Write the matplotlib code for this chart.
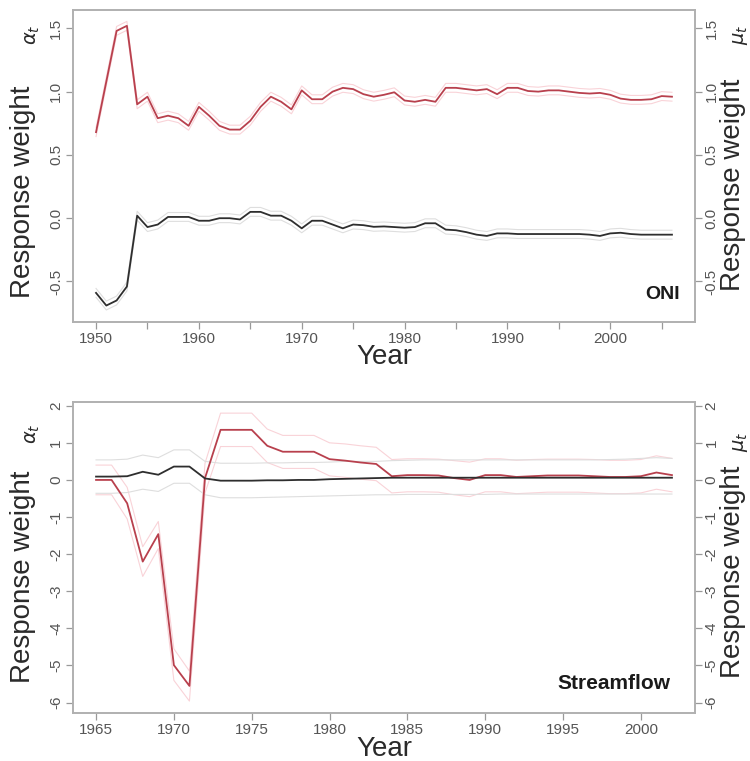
import numpy as np
import matplotlib
matplotlib.use("Agg")
import matplotlib.pyplot as plt

plt.rcParams['font.family'] = ['Liberation Sans', 'DejaVu Sans']

# ---- ONI panel (1950-2006) ----
oni_years = np.arange(1950, 2007)
oni_alpha = [0.68, 1.08, 1.48, 1.52, 0.90, 0.96, 0.79, 0.81, 0.79, 0.73,
             0.88, 0.81, 0.73, 0.70, 0.70, 0.77, 0.88, 0.96, 0.92, 0.86,
             1.01, 0.94, 0.94, 1.00, 1.03, 1.02, 0.98, 0.96, 0.975, 0.995,
             0.93, 0.92, 0.935, 0.92, 1.03, 1.03, 1.02, 1.01, 1.02, 0.98,
             1.03, 1.03, 1.005, 1.00, 1.01, 1.01, 1.00, 0.99, 0.985, 0.99,
             0.975, 0.945, 0.935, 0.935, 0.94, 0.965, 0.96]
oni_mu = [-0.59, -0.69, -0.65, -0.54, 0.02, -0.07, -0.05, 0.01, 0.01, 0.01,
          -0.02, -0.02, 0.00, 0.00, -0.01, 0.05, 0.05, 0.02, 0.02, -0.02,
          -0.08, -0.02, -0.02, -0.05, -0.08, -0.05, -0.055, -0.068, -0.065, -0.07,
          -0.075, -0.07, -0.04, -0.04, -0.09, -0.095, -0.11, -0.13, -0.14, -0.12,
          -0.12, -0.125, -0.125, -0.125, -0.125, -0.125, -0.125, -0.125, -0.13, -0.14,
          -0.12, -0.115, -0.125, -0.13, -0.13, -0.13, -0.13]
oni_band = 0.035  # half width of the faint bands

# ---- Streamflow panel (1965-2002) ----
sf_years = np.arange(1965, 2003)
sf_alpha = [0.0, 0.0, -0.63, -2.2, -1.46, -4.99, -5.55, 0.05, 1.35, 1.35,
            1.35, 0.92, 0.76, 0.76, 0.76, 0.56, 0.52, 0.47, 0.43, 0.10,
            0.13, 0.13, 0.12, 0.05, 0.0, 0.13, 0.13, 0.08, 0.10, 0.12,
            0.12, 0.12, 0.10, 0.08, 0.08, 0.10, 0.20, 0.13]
sf_alpha_hi = [0.40, 0.40, -0.20, -1.80, -1.12, -4.55, -5.15, 0.45, 1.80, 1.80,
               1.80, 1.37, 1.20, 1.20, 1.20, 1.00, 0.97, 0.92, 0.88, 0.55,
               0.57, 0.57, 0.56, 0.52, 0.48, 0.57, 0.57, 0.53, 0.55, 0.56,
               0.56, 0.56, 0.55, 0.53, 0.53, 0.55, 0.65, 0.58]
sf_alpha_lo = [-0.40, -0.40, -1.05, -2.60, -1.85, -5.40, -5.96, -0.35, 0.90, 0.90,
               0.90, 0.47, 0.31, 0.31, 0.31, 0.11, 0.07, 0.02, -0.02, -0.35,
               -0.32, -0.32, -0.33, -0.40, -0.45, -0.32, -0.32, -0.37, -0.35, -0.33,
               -0.33, -0.33, -0.35, -0.37, -0.37, -0.35, -0.25, -0.32]
sf_mu = [0.09, 0.09, 0.10, 0.22, 0.14, 0.36, 0.36, 0.04, -0.02, -0.02,
         -0.02, -0.01, -0.01, 0.0, 0.0, 0.02, 0.03, 0.04, 0.05, 0.06,
         0.06, 0.06, 0.06, 0.06, 0.06, 0.06, 0.06, 0.06, 0.06, 0.06,
         0.06, 0.06, 0.06, 0.06, 0.06, 0.06, 0.06, 0.06]
sf_mu_hi = [0.54, 0.54, 0.56, 0.67, 0.60, 0.81, 0.81, 0.50, 0.45, 0.45,
            0.45, 0.46, 0.46, 0.47, 0.47, 0.48, 0.50, 0.50, 0.50, 0.52,
            0.53, 0.54, 0.54, 0.54, 0.54, 0.54, 0.54, 0.54, 0.54, 0.54,
            0.54, 0.54, 0.54, 0.55, 0.56, 0.58, 0.60, 0.58]
sf_mu_lo = [-0.36, -0.36, -0.34, -0.25, -0.31, -0.09, -0.09, -0.40, -0.48, -0.48,
            -0.48, -0.47, -0.46, -0.45, -0.44, -0.43, -0.42, -0.41, -0.40, -0.40,
            -0.39, -0.39, -0.39, -0.39, -0.39, -0.39, -0.38, -0.38, -0.38, -0.38,
            -0.38, -0.38, -0.38, -0.38, -0.38, -0.38, -0.38, -0.38]

RED = '#b8404d'
BLACK = '#2e2e2e'
PINK = '#f9d3d8'
GREY = '#dedede'
W, H = 750, 761

fig = plt.figure(figsize=(7.5, 7.61), dpi=100)

def px_axes(l, t, r, b):
    return fig.add_axes([l / W, 1 - b / H, (r - l) / W, (b - t) / H])

def style(ax, xlim, ylim, xticks, xlabels, yticks, ylabels):
    ax.set_xlim(xlim)
    ax.set_ylim(ylim)
    tw = ax.twinx()
    tw.set_ylim(ylim)
    for a in (ax, tw):
        for s in a.spines.values():
            s.set_color('#b0b0b0')
            s.set_linewidth(1.2)
        a.tick_params(direction='out', length=5, width=0.9, color='#999999',
                      labelsize=11, labelcolor='#555555', pad=2)
        a.set_yticks(yticks)
        a.set_yticklabels(ylabels, rotation=90, va='center')
    ax.set_xticks(xticks)
    ax.set_xticklabels(xlabels)
    ax.tick_params(axis='x', pad=2)

# top panel
ax1 = px_axes(73, 10, 695, 322)
ax1.plot(oni_years, np.array(oni_alpha) + oni_band, color=PINK, lw=0.8)
ax1.plot(oni_years, np.array(oni_alpha) - oni_band, color=PINK, lw=0.8)
ax1.plot(oni_years, np.array(oni_mu) + oni_band, color=GREY, lw=0.8)
ax1.plot(oni_years, np.array(oni_mu) - oni_band, color=GREY, lw=0.8)
ax1.plot(oni_years, oni_alpha, color=RED, lw=1.3)
ax1.plot(oni_years, oni_mu, color=BLACK, lw=1.3)
xt1 = list(range(1950, 2006, 5))
style(ax1, (1947.76, 2008.24), (-0.82, 1.645), xt1,
      [str(y) if y % 10 == 0 else '' for y in xt1],
      [-0.5, 0.0, 0.5, 1.0, 1.5], ['-0.5', '0.0', '0.5', '1.0', '1.5'])
ax1.text(0.976, 0.087, 'ONI', transform=ax1.transAxes, ha='right', va='center',
         fontsize=14, fontweight='bold', color='#1a1a1a')

# bottom panel
ax2 = px_axes(73, 402, 695, 713)
ax2.plot(sf_years, sf_alpha_hi, color=PINK, lw=0.8)
ax2.plot(sf_years, sf_alpha_lo, color=PINK, lw=0.8)
ax2.plot(sf_years, sf_mu_hi, color=GREY, lw=0.8)
ax2.plot(sf_years, sf_mu_lo, color=GREY, lw=0.8)
ax2.plot(sf_years, sf_alpha, color=RED, lw=1.3)
ax2.plot(sf_years, sf_mu, color=BLACK, lw=1.3)
xt2 = list(range(1965, 2001, 5))
style(ax2, (1963.52, 2003.48), (-6.28, 2.1), xt2, [str(y) for y in xt2],
      list(range(-6, 3)), [str(v) for v in range(-6, 3)])
ax2.text(0.96, 0.096, 'Streamflow', transform=ax2.transAxes, ha='right', va='center',
         fontsize=15, fontweight='bold', color='#1a1a1a')

# axis titles
def ftext(x, y, s, **kw):
    fig.text(x / W, 1 - y / H, s, ha='center', va='center', color='#2a2a2a', **kw)

for yc, ya in ((192, 35), (577, 434)):
    ftext(23, yc, 'Response weight', rotation=90, fontsize=20)
    ftext(33, ya, r'$\alpha_t$', rotation=90, fontsize=14)
for yc, ym in ((185, 35), (572, 442)):
    ftext(733, yc, 'Response weight', rotation=90, fontsize=20)
    ftext(741, ym, r'$\mu_t$', rotation=90, fontsize=14)
ftext(384, 357, 'Year', fontsize=20)
ftext(384, 749, 'Year', fontsize=20)

fig.savefig('out.png', dpi=100)
